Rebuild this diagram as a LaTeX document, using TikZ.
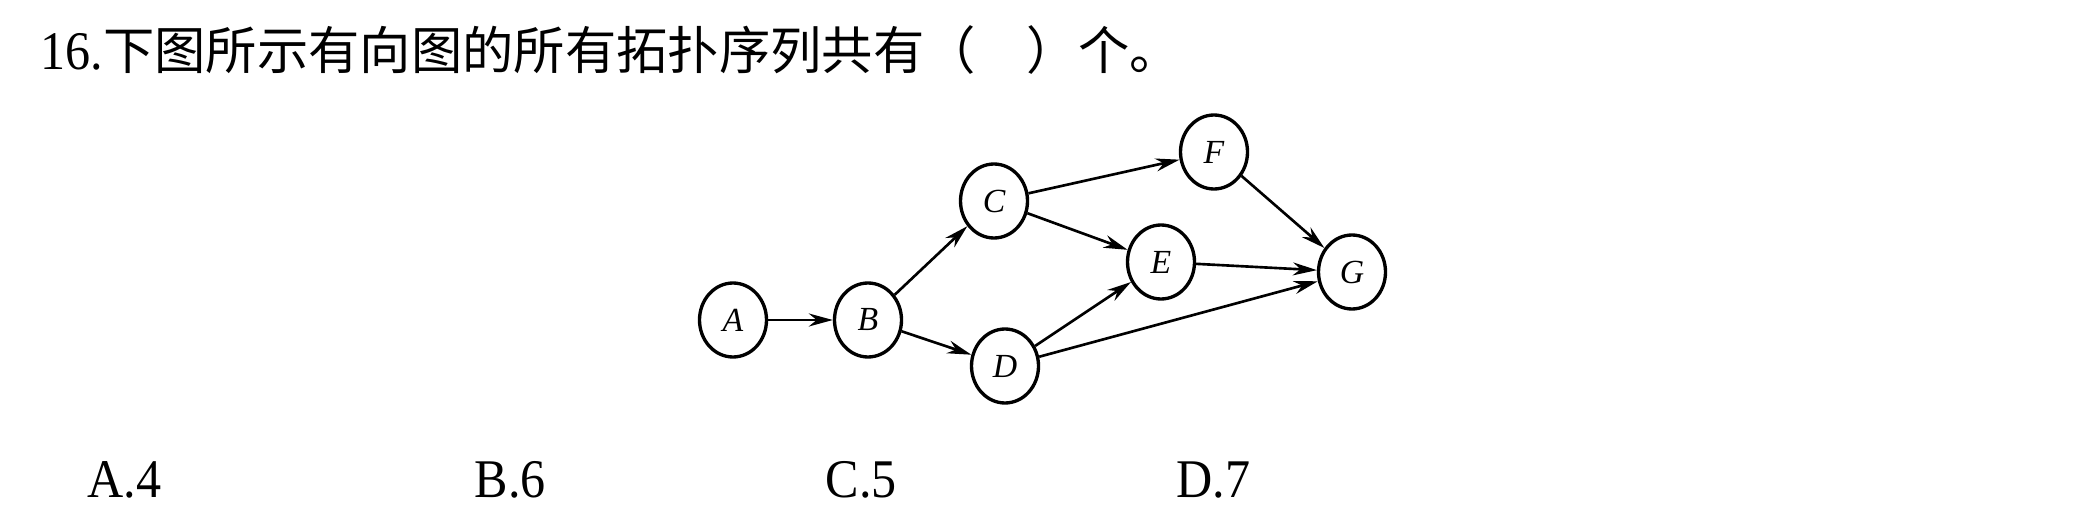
\documentclass[tikz,border=0pt]{standalone}
\usepackage{fontspec}
\setmainfont{Liberation Serif}
\newfontfamily\cjk{Noto Sans CJK SC}
\newfontfamily\narrowserif[FakeStretch=0.92]{Liberation Serif}
\usetikzlibrary{arrows.meta, shapes.geometric}

\begin{document}
\begin{tikzpicture}[
  vertex/.style={draw, ellipse, line width=0.95pt, minimum width=0.67cm, minimum height=0.74cm,
    inner sep=0pt, font=\fontsize{9.6}{11}\selectfont\itshape},
  arc/.style={line width=0.75pt, -{Stealth[length=2.4mm, width=1.3mm]}},
  choice/.style={anchor=base west, inner sep=0pt, font=\fontsize{15.5}{18}\narrowserif}
]
\useasboundingbox (0,0) rectangle (20.81,-5.17);

% Question
\node[choice] (question) at (0.40,-0.70) {16.{\cjk\fontsize{14.6}{18}\selectfont 下图所示有向图的所有拓扑序列共有（　）个。}};

% Vertices
\node[vertex] (A) at (7.33,-3.20) {A};
\node[vertex] (B) at (8.68,-3.20) {B};
\node[vertex] (C) at (9.94,-2.01) {C};
\node[vertex] (D) at (10.05,-3.66) {D};
\node[vertex] (E) at (11.61,-2.62) {E};
\node[vertex] (F) at (12.14,-1.52) {F};
\node[vertex] (G) at (13.52,-2.72) {G};

% Arcs
\draw[arc] (A) -- (B);
\draw[arc] (B) -- (C);
\draw[arc] (B) -- (D);
\draw[arc] (C) -- (F);
\draw[arc] (C) -- (E);
\draw[arc] (D) -- (E);
\draw[arc] (D) -- (G);
\draw[arc] (E) -- (G);
\draw[arc] (F) -- (G);

% Choices
\node[choice] (optA) at (0.87,-4.97) {A.4};
\node[choice] (optB) at (4.74,-4.97) {B.6};
\node[choice] (optC) at (8.25,-4.97) {C.5};
\node[choice] (optD) at (11.76,-4.97) {D.7};
\end{tikzpicture}
\end{document}
